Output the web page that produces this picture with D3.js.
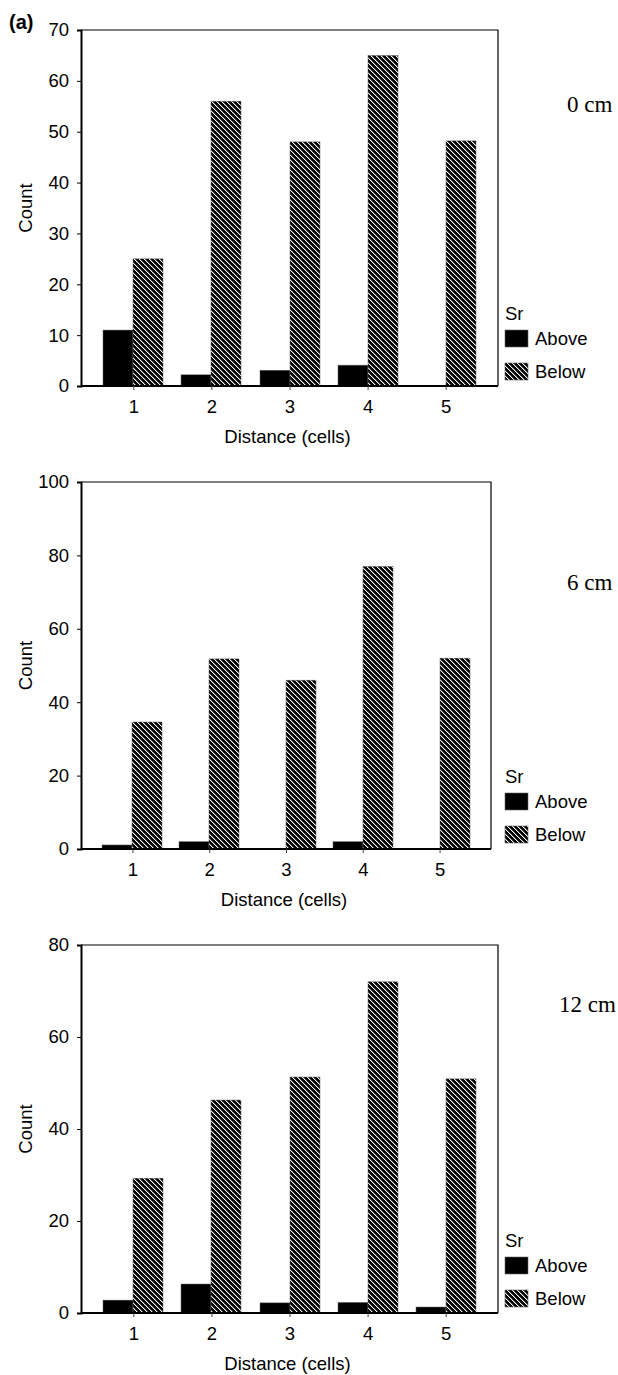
<!DOCTYPE html>
<html>
<head>
<meta charset="utf-8">
<script src="https://cdn.jsdelivr.net/npm/d3@7"></script>
<style>
  body { margin: 0; background: #fff; }
  svg { display: block; }
  text { font-family: Arial, "Liberation Sans", sans-serif; fill: #000; }
</style>
</head>
<body>
<div id="chart"></div>
<script>
// data
const distances = ['1', '2', '3', '4', '5'];
const seriesNames = ['Above', 'Below'];
const depthLabels = ['0 cm', '6 cm', '12 cm'];
const yMaxes = [70, 100, 80];
const yTickSteps = [10, 20, 20];

const above0 = [11, 2.2, 3.1, 4.1, 0];
const below0 = [25, 56, 48, 65, 48.2];
const above6 = [1.1, 2, 0, 2, 0];
const below6 = [34.6, 51.8, 46, 77, 52];
const above12 = [2.8, 6.3, 2.2, 2.3, 1.3];
const below12 = [29.3, 46.3, 51.3, 72, 50.9];

const panelData = [
  [above0, below0],
  [above6, below6],
  [above12, below12]
];

// layout of each panel (pixels)
const layout = [
  { top: 30, bottom: 386, right: 498, labelX: 567, labelY: 112 },
  { top: 482, bottom: 849, right: 491, labelX: 567, labelY: 590 },
  { top: 945, bottom: 1313, right: 498, labelX: 559, labelY: 1012 }
];
const left = 81;
const fontSize = '18.5px';

const svg = d3.select('#chart')
  .append('svg')
  .attr('width', 618)
  .attr('height', 1375);

// hatch pattern: black with white "\" diagonals, pixel aligned
const tile = 5;
const defs = svg.append('defs');
const pat = defs.append('pattern')
  .attr('id', 'hatch')
  .attr('patternUnits', 'userSpaceOnUse')
  .attr('width', tile)
  .attr('height', tile);
pat.append('rect').attr('width', tile).attr('height', tile).attr('fill', '#000');
pat.selectAll(null)
  .data(d3.range(tile))
  .enter()
  .append('rect')
  .attr('x', d => d)
  .attr('y', d => d)
  .attr('width', 1)
  .attr('height', 1)
  .attr('fill', '#fff')
  .attr('shape-rendering', 'crispEdges');
pat.selectAll(null)
  .data(d3.range(tile))
  .enter()
  .append('rect')
  .attr('x', d => (d + 1) % tile)
  .attr('y', d => d)
  .attr('width', 1)
  .attr('height', 1)
  .attr('fill', '#555')
  .attr('shape-rendering', 'crispEdges');

const fills = { Above: '#000', Below: 'url(#hatch)' };

svg.append('text')
  .attr('x', 9)
  .attr('y', 29)
  .style('font-size', '20px')
  .style('font-weight', 'bold')
  .text('(a)');

layout.forEach((L, p) => {
  const g = svg.append('g');
  const width = L.right - left;

  const x = d3.scalePoint()
    .domain(distances)
    .range([left, L.right])
    .padding(0.67);
  const step = x.step();
  const bw = Math.round(step * 0.385);
  const xs = d3.scaleBand().domain(seriesNames).range([-bw, bw]);

  const y = d3.scaleLinear()
    .domain([0, yMaxes[p]])
    .range([L.bottom, L.top]);

  // frame (top and right)
  g.append('path')
    .attr('d', `M${left},${L.top}H${L.right}V${L.bottom}`)
    .attr('fill', 'none')
    .attr('stroke', '#000')
    .attr('stroke-width', 1.2);

  // bars
  seriesNames.forEach((s, si) => {
    g.selectAll(null)
      .data(panelData[p][si])
      .enter()
      .append('rect')
      .attr('x', (d, i) => Math.round(x(distances[i]) + xs(s)))
      .attr('y', d => y(d))
      .attr('width', xs.bandwidth())
      .attr('height', d => y(0) - y(d))
      .attr('fill', fills[s])
      .attr('stroke', '#666')
      .attr('stroke-width', 0.5);
  });

  // y axis
  const yAxis = g.append('g')
    .attr('transform', `translate(${left},0)`)
    .call(d3.axisLeft(y)
      .tickValues(d3.range(0, yMaxes[p] + 1, yTickSteps[p]))
      .tickSize(4)
      .tickPadding(8));
  yAxis.select('.domain').attr('stroke-width', 2);
  yAxis.selectAll('text').style('font-size', fontSize).attr('fill', '#000');

  // x axis
  const xAxis = g.append('g')
    .attr('transform', `translate(0,${L.bottom})`)
    .call(d3.axisBottom(x).tickSize(4).tickSizeOuter(0).tickPadding(10));
  xAxis.select('.domain')
    .attr('d', `M${left},0H${L.right}`)
    .attr('stroke-width', 2);
  xAxis.selectAll('.tick line').attr('stroke', '#444');
  xAxis.selectAll('text').style('font-size', fontSize).attr('fill', '#000');

  // axis titles
  g.append('text')
    .attr('x', left + width / 2 - 2)
    .attr('y', L.bottom + 57)
    .attr('text-anchor', 'middle')
    .style('font-size', fontSize)
    .text('Distance (cells)');

  g.append('text')
    .attr('transform', `translate(32,${(L.top + L.bottom) / 2}) rotate(-90)`)
    .attr('text-anchor', 'middle')
    .style('font-size', fontSize)
    .text('Count');

  // depth label
  g.append('text')
    .attr('x', L.labelX)
    .attr('y', L.labelY)
    .style('font-family', '"Liberation Serif", "Times New Roman", serif')
    .style('font-size', '23px')
    .text(depthLabels[p]);

  // legend
  const lg = g.append('g').attr('transform', `translate(505,${L.bottom})`);
  lg.append('text').attr('x', 0).attr('y', -66).style('font-size', fontSize).text('Sr');
  seriesNames.forEach((s, si) => {
    const yy = si === 0 ? -56 : -23;
    lg.append('rect')
      .attr('x', 0)
      .attr('y', yy)
      .attr('width', 23)
      .attr('height', 17)
      .attr('fill', fills[s])
      .attr('stroke', '#666')
      .attr('stroke-width', 0.6);
    lg.append('text')
      .attr('x', 30)
      .attr('y', yy + 15)
      .style('font-size', fontSize)
      .text(s);
  });
});
</script>
</body>
</html>
